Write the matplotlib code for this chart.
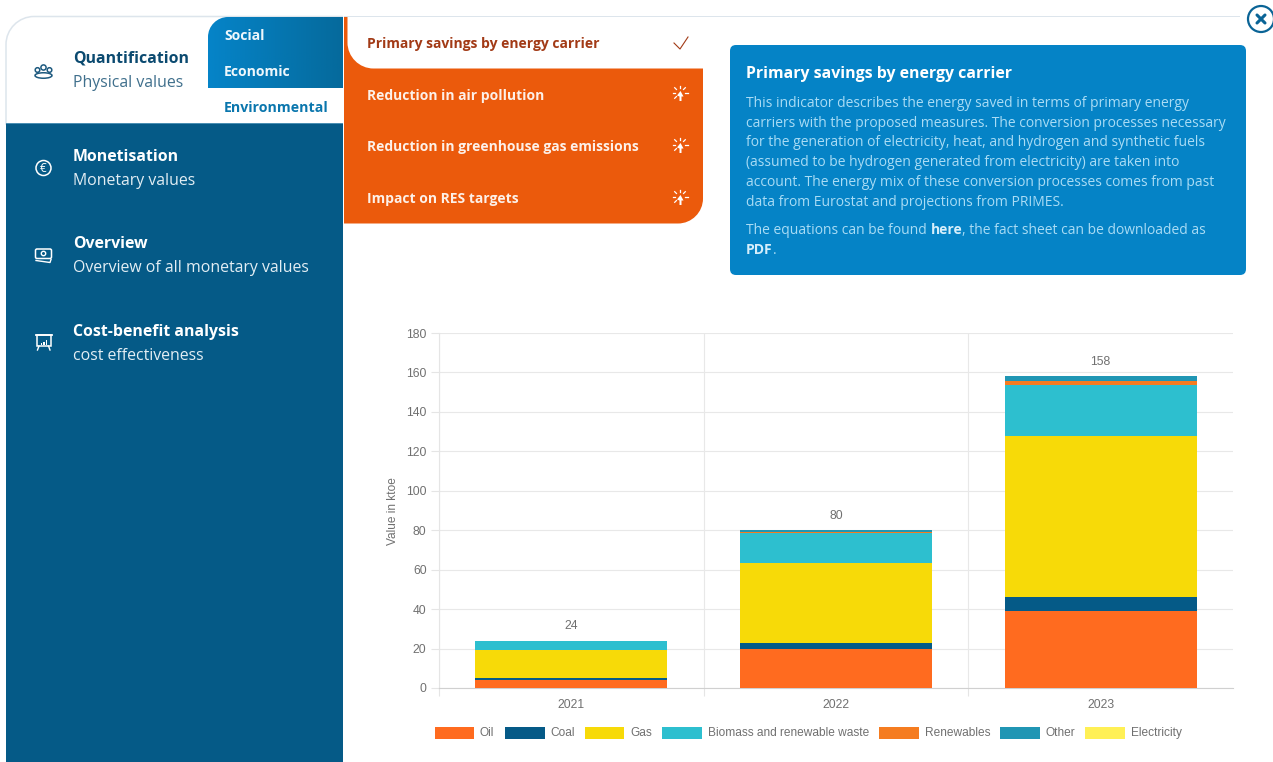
import numpy as np
import matplotlib
matplotlib.use("Agg")
import matplotlib.pyplot as plt
from matplotlib.patches import FancyBboxPatch, Rectangle, Circle, PathPatch, Ellipse
from matplotlib.path import Path

years = ["2021", "2022", "2023"]
carriers = ["Oil", "Coal", "Gas", "Biomass and renewable waste", "Renewables", "Other", "Electricity"]
oil = [4.0, 20.0, 39.0]
coal = [1.0, 3.0, 7.0]
gas = [14.3, 40.5, 82.0]
biomass = [4.7, 15.2, 25.7]
renewables = [0.0, 0.5, 2.0]
other = [0.0, 0.8, 2.3]
electricity = [0.0, 0.0, 0.0]
totals = [24, 80, 158]
series = [oil, coal, gas, biomass, renewables, other, electricity]
colors = ["#ff6b1f", "#055a87", "#f7da08", "#2dbfcf", "#f57c20", "#2096b4", "#fff055"]
yticks = list(range(0, 181, 20))

sub_tabs = ["Social", "Economic", "Environmental"]
indicators = ["Primary savings by energy carrier", "Reduction in air pollution",
              "Reduction in greenhouse gas emissions", "Impact on RES targets"]
info_lines = [
    "This indicator describes the energy saved in terms of primary energy",
    "carriers with the proposed measures. The conversion processes necessary",
    "for the generation of electricity, heat, and hydrogen and synthetic fuels",
    "(assumed to be hydrogen generated from electricity) are taken into",
    "account. The energy mix of these conversion processes comes from past",
    "data from Eurostat and projections from PRIMES.",
]

W, H = 1273, 762
UI = "Open Sans"
CHART = "Liberation Sans"
NAVY = "#055a87"
ORANGE = "#eb5a0c"
BLUE = "#0583c6"
BODY = "#a9dcf5"
GREY = "#707070"

fig = plt.figure(figsize=(W / 100, H / 100), dpi=100, facecolor="white")
ui = fig.add_axes([0, 0, 1, 1])
ui.set_xlim(0, W)
ui.set_ylim(H, 0)
ui.axis("off")


def rounded(x0, y0, x1, y1, tl=0, tr=0, br=0, bl=0):
    # rectangle with its own radius per corner, y pointing down
    k = 0.55
    v = [(x0 + tl, y0), (x1 - tr, y0)]
    c = [Path.MOVETO, Path.LINETO]
    if tr:
        v += [(x1 - tr + k * tr, y0), (x1, y0 + tr - k * tr), (x1, y0 + tr)]
        c += [Path.CURVE4] * 3
    v.append((x1, y1 - br))
    c.append(Path.LINETO)
    if br:
        v += [(x1, y1 - br + k * br), (x1 - br + k * br, y1), (x1 - br, y1)]
        c += [Path.CURVE4] * 3
    v.append((x0 + bl, y1))
    c.append(Path.LINETO)
    if bl:
        v += [(x0 + bl - k * bl, y1), (x0, y1 - bl + k * bl), (x0, y1 - bl)]
        c += [Path.CURVE4] * 3
    v.append((x0, y0 + tl))
    c.append(Path.LINETO)
    if tl:
        v += [(x0, y0 + tl - k * tl), (x0 + tl - k * tl, y0), (x0 + tl, y0)]
        c += [Path.CURVE4] * 3
    return Path(v, c)


def label(x, y, s, size=10.4, color="white", weight="normal"):
    ui.text(x, y + 0.8, s, fontsize=size, color=color, fontweight=weight, family=UI, va="center", ha="left")


def click_icon(cx, cy, color="white"):
    for a in np.deg2rad([-90, -45, 0, 180, 225, 135]):
        ui.plot([cx + 5 * np.cos(a), cx + 7.5 * np.cos(a)], [cy - 1 + 5 * np.sin(a), cy - 1 + 7.5 * np.sin(a)],
                color=color, lw=0.9)
    ui.add_patch(plt.Polygon([(cx - 3, cy + 1.5), (cx + 0.5, cy - 3), (cx + 3.5, cy + 2.5), (cx + 1.5, cy + 2.5), (cx + 1.5, cy + 7), (cx - 0.5, cy + 7), (cx - 0.5, cy + 2.5)],
                             color=color, lw=0))


# card and sidebar
ui.add_patch(PathPatch(rounded(6, 16.5, 344, 124, tl=28), fc="white", ec="#dde5ec", lw=1.1))
ui.add_patch(Rectangle((343, 15), 3, 110, fc="white", lw=0))
ui.add_patch(Rectangle((6, 124), 337, 640, fc=NAVY, lw=0))
ui.add_patch(Rectangle((6, 123), 337, 1.2, fc="#4b8fb3", lw=0))

# gradient sub tabs
tab_clip = PathPatch(rounded(208, 17, 343, 88, tl=20), fc="none", lw=0, transform=ui.transData)
ui.add_patch(tab_clip)
gradient = np.linspace(0, 1, 64).reshape(1, -1)
img = ui.imshow(gradient, extent=(208, 343, 88, 17), aspect="auto", zorder=1,
                cmap=matplotlib.colors.LinearSegmentedColormap.from_list("tab", ["#0584c8", "#056a9c"]))
img.set_clip_path(tab_clip)
ui.set_xlim(0, W)
ui.set_ylim(H, 0)
label(224, 35, sub_tabs[0], 10.1, "#eef7fc", "bold")
label(224, 71, sub_tabs[1], 10.1, "#eef7fc", "bold")
label(224, 107, sub_tabs[2], 10.2, "#0a76ad", "bold")

# indicator menu
ui.add_patch(PathPatch(rounded(344, 17, 703, 223.5, br=25), fc=ORANGE, lw=0))
ui.add_patch(PathPatch(rounded(347.5, 16.5, 703, 68.5, bl=26), fc="white", lw=0))
ui.add_patch(Rectangle((344, 16), 896, 1.1, fc="#dde5ec", lw=0))
label(367, 43, indicators[0], 10.0, "#a23a16", "bold")
label(367, 95, indicators[1], 10.0, "#fdf0e8", "bold")
label(367, 146, indicators[2], 10.0, "#fdf0e8", "bold")
label(367, 198, indicators[3], 10.0, "#fdf0e8", "bold")
ui.plot([674, 680, 688], [43, 49, 37], color="#a23a16", lw=0.8)
for yy in [94, 146, 198]:
    click_icon(680, yy)

# sidebar entries
entries = [(58, 82, "Quantification", "Physical values", "#0b4a70", "#3f6f8c"),
           (156, 180, "Monetisation", "Monetary values", "white", "#e3eef4"),
           (243, 267, "Overview", "Overview of all monetary values", "white", "#e3eef4"),
           (331, 355, "Cost-benefit analysis", "cost effectiveness", "white", "#e3eef4")]
for y1, y2, head, sub, c1, c2 in entries:
    label(73, y1, head, 11.4, c1, "bold")
    label(73, y2, sub, 11.4, c2)

# people icon
for dx, dy, r in [(-6, -1, 2.3), (0, -3.5, 2.6), (6, -1, 2.3)]:
    ui.add_patch(Circle((43.5 + dx, 71 + dy), r, fc="none", ec="#1f5b80", lw=1.1))
ui.add_patch(Ellipse((43.5, 75.5), 17, 5.5, fc="none", ec="#1f5b80", lw=1.1))
# euro icon
ui.add_patch(Circle((43.5, 168), 7.5, fc="none", ec="white", lw=1.1))
ui.text(43.5, 168, "€", color="white", fontsize=8.5, ha="center", va="center", family=UI)
# money icon
ui.add_patch(FancyBboxPatch((35.5, 249), 16, 9.5, boxstyle="round,pad=0,rounding_size=1.5", fc="none", ec="white", lw=1.1))
ui.add_patch(Circle((43.5, 253.5), 2.2, fc="none", ec="white", lw=1))
ui.plot([36, 50, 51], [260.5, 262.5, 259.5], color="white", lw=1)
# board icon
ui.add_patch(Rectangle((37, 335), 13.5, 11, fc="none", ec="white", lw=1.1))
ui.plot([36, 52], [335, 335], color="white", lw=1.3)
ui.plot([39, 37.5], [346, 350], color="white", lw=1)
ui.plot([48.5, 50], [346, 350], color="white", lw=1)
ui.bar([41.5, 44, 46.5], [1.5, 3, 5], width=1.2, bottom=[343, 341.5, 339.5], color="white")

# info box
ui.add_patch(FancyBboxPatch((730, 45), 516, 230, boxstyle="round,pad=0,rounding_size=6", fc=BLUE, lw=0))
label(746, 73, indicators[0], 11.4, "white", "bold")
for i, line in enumerate(info_lines):
    label(746, 102.5 + i * 19.8, line, 10.0, BODY)
label(746, 229.5, "The equations can be found", 10.0, BODY)
label(930.5, 229.5, "here", 10.0, "#d5eefb", "bold")
label(962, 229.5, ", the fact sheet can be downloaded as", 10.0, BODY)
label(746, 249.5, "PDF", 10.0, "#d5eefb", "bold")
label(773, 249.5, ".", 10.0, BODY)

# close button
ui.add_patch(Circle((1261, 19), 13, fc="white", ec="#0a6496", lw=1.6))
ui.plot([1257, 1265], [15, 23], color="#0a6496", lw=2.2, solid_capstyle="round")
ui.plot([1257, 1265], [23, 15], color="#0a6496", lw=2.2, solid_capstyle="round")

# chart
ax = fig.add_axes([439 / W, (H - 688) / H, 794 / W, 355 / H], facecolor="none")
x = np.arange(len(years))
bottom = np.zeros(len(years))
bars = []
for vals, col, name in zip(series, colors, carriers):
    bars.append(ax.bar(x, vals, width=0.725, bottom=bottom, color=col, label=name, zorder=3))
    bottom = bottom + np.array(vals)
for xi, top, tot in zip(x, bottom, totals):
    ax.annotate(str(tot), (xi, top), xytext=(0, 6), textcoords="offset points", ha="center", va="bottom",
                fontsize=8.7, color=GREY, family=CHART)

ax.set_xlim(-0.5, 2.5)
ax.set_ylim(0, 180)
ax.set_yticks(yticks)
ax.set_yticklabels([str(v) for v in yticks], family=CHART, fontsize=8.7, color=GREY)
ax.set_xticks([-0.5, 0.5, 1.5])
ax.set_xticklabels([])
ax.set_xticks(x, minor=True)
ax.set_xticklabels(years, minor=True, family=CHART, fontsize=8.7, color=GREY)
ax.tick_params(axis="x", which="major", length=6, width=0.8, color="#e5e5e5")
ax.tick_params(axis="x", which="minor", length=0, pad=8)
ax.tick_params(axis="y", length=6, width=0.8, color="#e5e5e5", pad=3)
ax.grid(True, which="major", color="#e8e8e8", lw=0.8, zorder=0)
ax.set_axisbelow(True)
for side in ["top", "right"]:
    ax.spines[side].set_visible(False)
ax.spines["left"].set_color("#e5e5e5")
ax.spines["bottom"].set_color("#d0d0d0")
ui.text(393, 511, "Value in ktoe", rotation=90, fontsize=8.6, color=GREY, family=CHART, ha="center", va="center")

# legend, chart.js style
legend_x = [434.5, 505, 584.5, 662, 879, 1000, 1085]
for lx, name, b in zip(legend_x, carriers, bars):
    ui.add_patch(Rectangle((lx, 727), 39.5, 12, fc=b.patches[0].get_facecolor(), lw=0))
    ui.text(lx + 45.5, 733, name, fontsize=8.6, color=GREY, family=CHART, va="center", ha="left")

fig.savefig("out.png", dpi=100)
